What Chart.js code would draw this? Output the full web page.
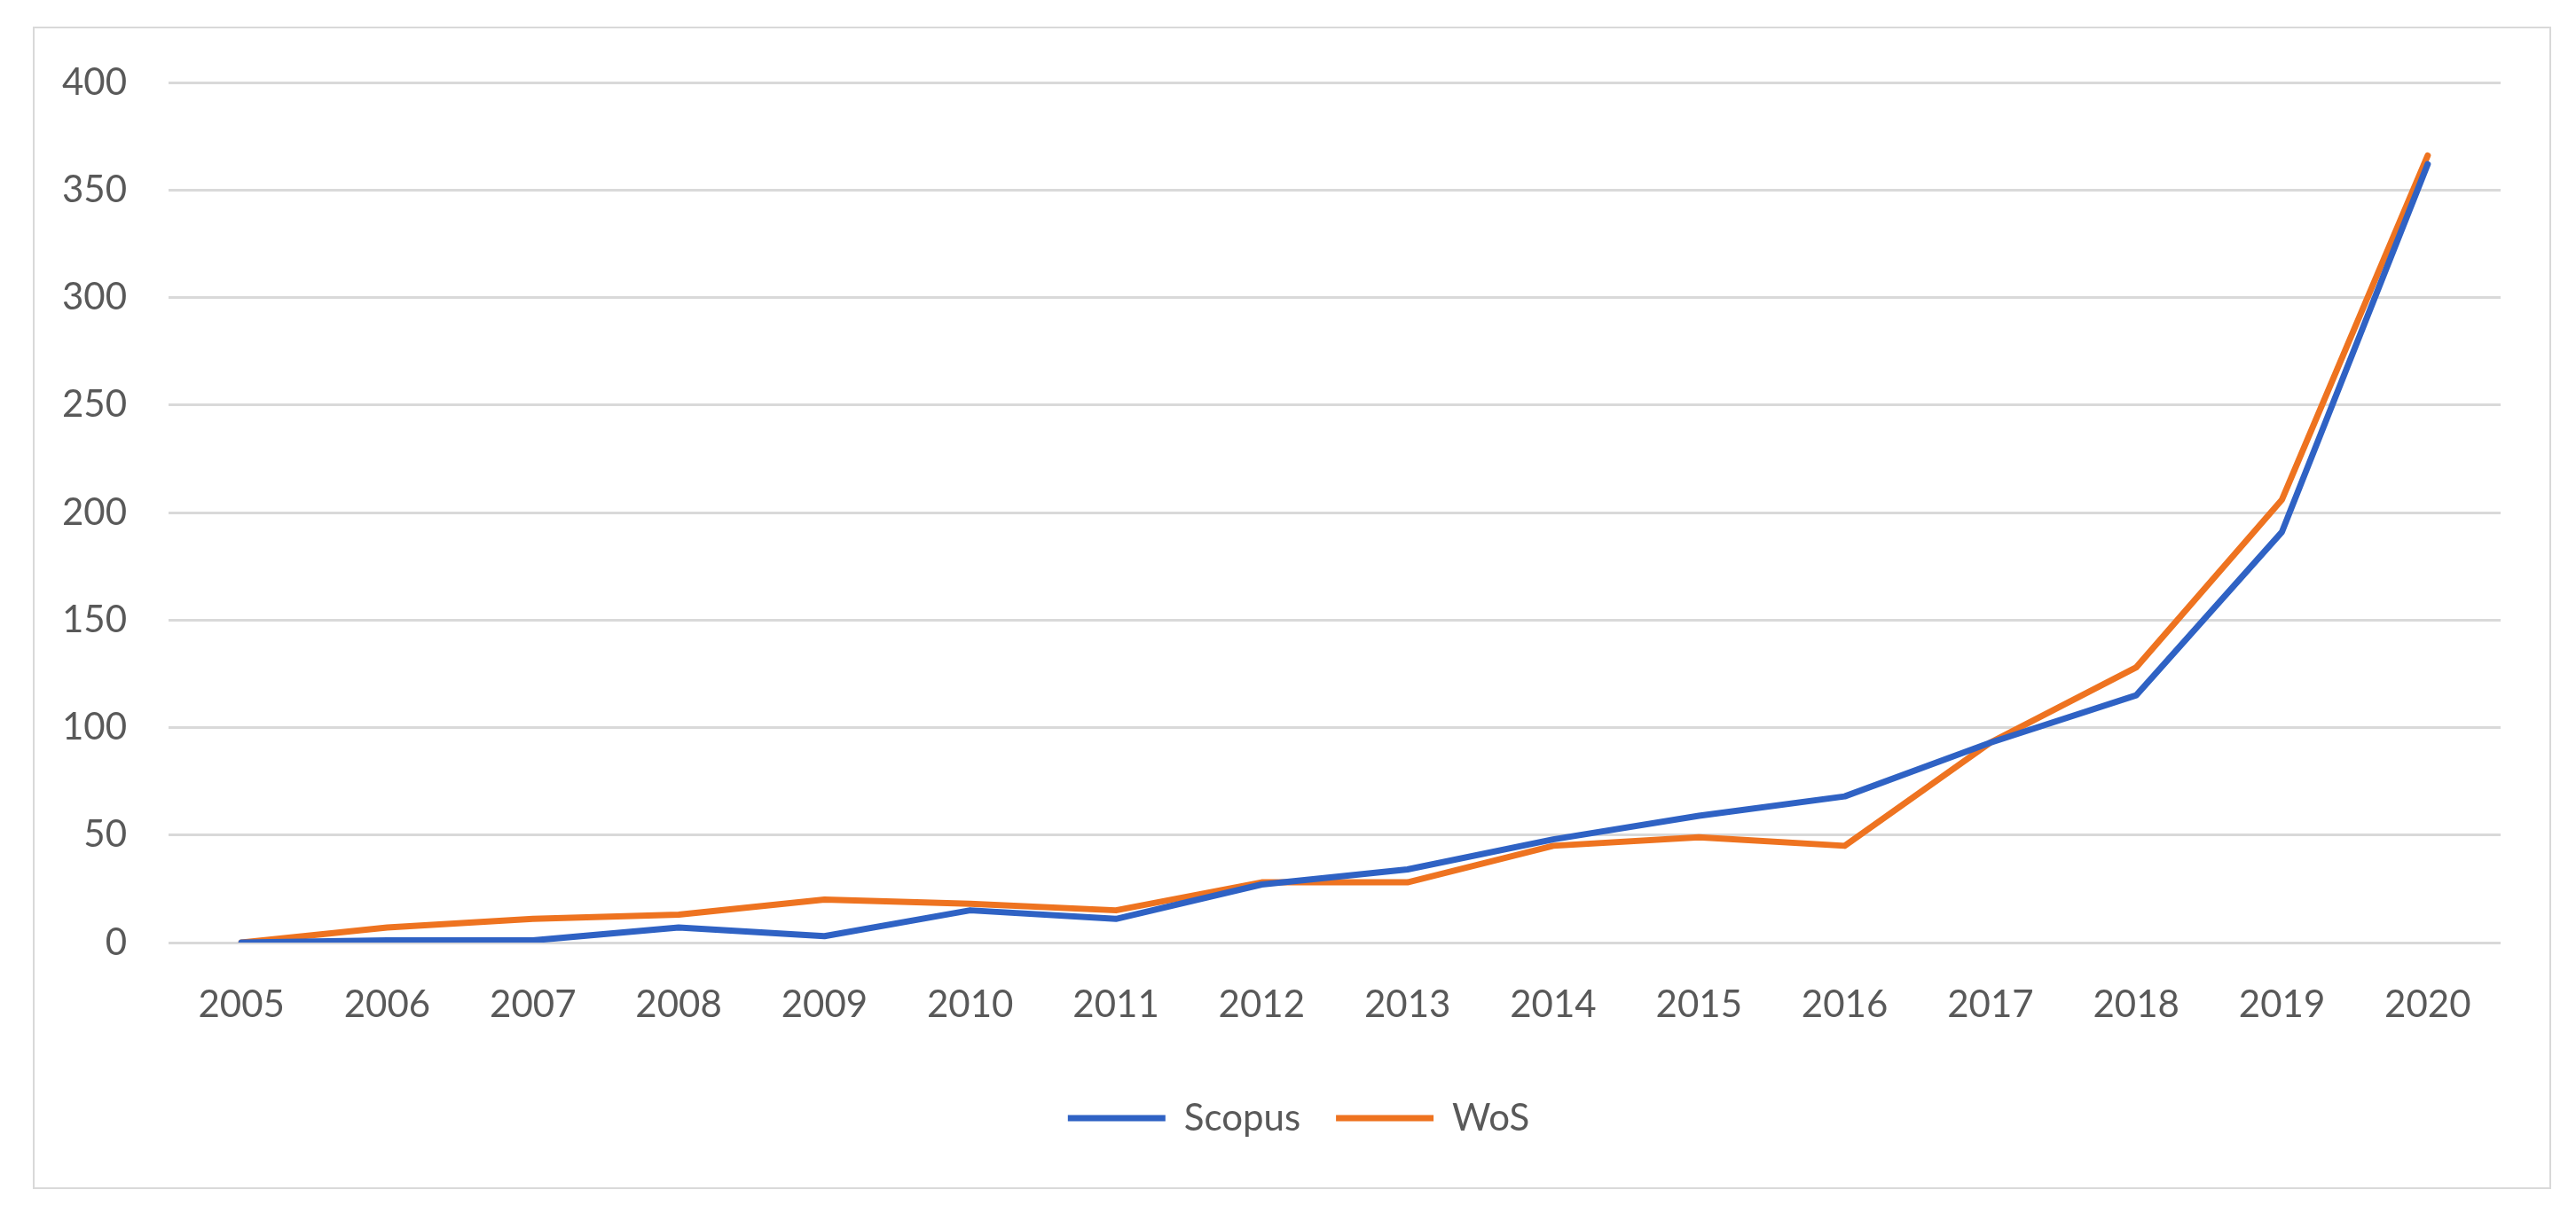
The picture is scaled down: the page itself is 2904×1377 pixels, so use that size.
<!DOCTYPE html>
<html>
<head>
<meta charset="utf-8">
<script src="https://cdn.jsdelivr.net/npm/chart.js@4.4.0/dist/chart.umd.min.js"></script>
<style>
    html, body { margin: 0; padding: 0; background: #ffffff; }
    #frame {
        position: absolute;
        left: 37px;
        top: 30px;
        width: 2835px;
        height: 1307px;
        border: 2px solid #d9d9d9;
    }
</style>
</head>
<body>
<div id="frame"><canvas id="pubs-chart"></canvas></div>
<script>
    // Años
    const years = ['2005', '2006', '2007', '2008', '2009', '2010', '2011', '2012',
                   '2013', '2014', '2015', '2016', '2017', '2018', '2019', '2020'];

    // Publicaciones por base de datos
    const scopus = [0, 1, 1, 7, 3, 15, 11, 27, 34, 48, 59, 68, 93, 115, 191, 362];
    const wos = [0, 7, 11, 13, 20, 18, 15, 28, 28, 45, 49, 45, 93, 128, 206, 366];

    // Eje Y
    const yMax = 400;
    const yStep = 50;

    const textColor = '#595959';
    const fontFamily = 'Lato, "Open Sans", sans-serif';

    // Leyenda un poco a la derecha, como en el original
    const legendShift = {
        id: 'legendShift',
        afterLayout(chart) {
            chart.legend.left += 35;
            chart.legend.right += 35;
        }
    };

    const pubsChart = new Chart(document.getElementById('pubs-chart'), {
        type: 'line',
        data: {
            labels: years,
            datasets: [{
                label: 'Scopus',
                data: scopus,
                borderColor: '#2f62c4',
                backgroundColor: '#2f62c4',
                borderWidth: 7,
                tension: 0,
                pointRadius: 0,
                borderCapStyle: 'round',
                borderJoinStyle: 'round'
            }, {
                label: 'WoS',
                data: wos,
                borderColor: '#ee7320',
                backgroundColor: '#ee7320',
                borderWidth: 7,
                tension: 0,
                pointRadius: 0,
                borderCapStyle: 'round',
                borderJoinStyle: 'round'
            }]
        },
        options: {
            responsive: true,
            maintainAspectRatio: false,
            animation: false,
            layout: {
                padding: { left: 0, right: 55, top: 61, bottom: 47 }
            },
            scales: {
                x: {
                    offset: true,
                    grid: { display: false },
                    border: { display: false },
                    ticks: {
                        color: textColor,
                        padding: 37,
                        maxRotation: 0,
                        font: { family: fontFamily, size: 42 }
                    },
                    afterFit: function(scale) { scale.height = 137; }
                },
                y: {
                    min: 0,
                    max: yMax,
                    border: { display: false },
                    grid: {
                        color: '#d9d9d9',
                        lineWidth: 3,
                        drawTicks: false
                    },
                    ticks: {
                        stepSize: yStep,
                        color: textColor,
                        padding: 47,
                        font: { family: fontFamily, size: 42 }
                    },
                    afterFit: function(scale) {
                        scale.width = 151;
                        scale.paddingTop = 0;
                        scale.paddingBottom = 0;
                    }
                }
            },
            plugins: {
                legend: {
                    display: true,
                    position: 'bottom',
                    labels: {
                        usePointStyle: true,
                        pointStyle: 'line',
                        pointStyleWidth: 110,
                        boxHeight: 42,
                        padding: 40,
                        color: textColor,
                        font: { family: fontFamily, size: 42 }
                    }
                },
                tooltip: { enabled: false }
            }
        },
        plugins: [legendShift]
    });
</script>
</body>
</html>
